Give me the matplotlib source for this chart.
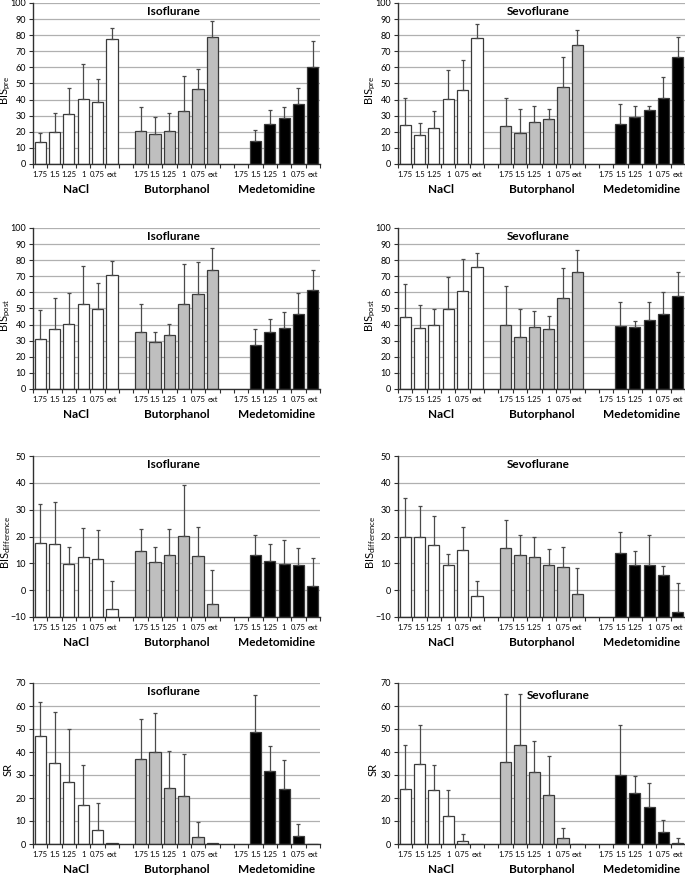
import numpy as np
import matplotlib
matplotlib.use("Agg")
import matplotlib.pyplot as plt

plt.rcParams['font.family'] = ['Lato', 'DejaVu Sans']
plt.rcParams['mathtext.default'] = 'regular'

nan = np.nan

groups = ["NaCl", "Butorphanol", "Medetomidine"]
doses = ["1.75", "1.5", "1.25", "1", "0.75", "ext"]
group_colors = ["white", "#bfbfbf", "black"]

# means and SDs, 18 bars per panel: NaCl x6, Butorphanol x6, Medetomidine x6
iso_pre_mean = [13.5, 19.9, 30.8, 40.6, 38.3, 77.8, 20.5, 18.6, 20.5, 32.7, 46.4, 78.9, nan, 14.3, 24.6, 28.8, 37.3, 60.5]
iso_pre_sd = [5.8, 11.8, 16.6, 21.3, 14.5, 6.7, 14.9, 10.6, 11.2, 21.8, 12.6, 9.9, nan, 6.8, 8.9, 6.6, 9.7, 15.7]
sev_pre_mean = [24.2, 18.0, 22.6, 40.6, 45.8, 78.3, 23.6, 19.5, 25.9, 28.2, 47.8, 73.9, nan, 25.0, 29.4, 33.3, 41.0, 66.5]
sev_pre_sd = [16.6, 7.7, 10.1, 17.8, 18.8, 8.7, 17.2, 14.9, 9.9, 5.8, 18.9, 9.3, nan, 12.3, 6.6, 2.7, 13.0, 12.4]

iso_post_mean = [31.1, 37.5, 40.6, 52.6, 49.9, 71.0, 35.2, 29.2, 33.7, 52.6, 59.2, 73.9, nan, 27.3, 35.6, 38.1, 46.4, 61.7]
iso_post_sd = [17.8, 19.0, 19.0, 23.6, 15.9, 8.7, 17.6, 6.2, 6.5, 24.8, 19.5, 13.5, nan, 10.2, 7.9, 9.9, 13.0, 12.4]
sev_post_mean = [44.5, 37.9, 39.8, 49.9, 60.9, 76.0, 39.8, 32.5, 38.3, 37.5, 56.7, 72.5, nan, 38.9, 38.3, 42.9, 46.6, 58.0]
sev_post_sd = [20.5, 14.3, 9.9, 19.9, 19.8, 8.5, 24.4, 17.4, 10.1, 8.0, 18.2, 13.8, nan, 15.3, 4.1, 11.3, 13.9, 14.9]

iso_diff_mean = [17.6, 17.3, 9.8, 12.2, 11.7, -7.1, 14.7, 10.6, 13.2, 20.2, 12.9, -5.2, nan, 13.0, 10.9, 9.6, 9.3, 1.4]
iso_diff_sd = [14.6, 15.7, 6.4, 10.8, 10.6, 10.6, 8.0, 5.6, 9.7, 18.9, 10.5, 12.8, nan, 7.7, 6.2, 9.0, 6.3, 10.5]
sev_diff_mean = [19.9, 19.9, 17.0, 9.3, 15.0, -2.1, 15.8, 13.2, 12.3, 9.5, 8.5, -1.4, nan, 13.7, 9.2, 9.4, 5.7, -8.3]
sev_diff_sd = [14.5, 11.5, 10.7, 4.1, 8.4, 5.4, 10.3, 7.2, 7.4, 5.8, 7.6, 9.7, nan, 7.8, 5.5, 11.0, 3.2, 10.9]

iso_sr_mean = [46.9, 35.1, 26.9, 17.0, 6.1, 0.3, 36.9, 39.9, 24.3, 20.9, 3.2, 0.3, nan, 48.6, 31.7, 23.7, 3.6, 0.0]
iso_sr_sd = [14.7, 22.3, 23.1, 17.3, 11.6, 0, 17.6, 17.0, 16.2, 18.3, 6.5, 0, nan, 16.2, 10.8, 13.0, 5.0, 0]
sev_sr_mean = [23.8, 34.7, 23.5, 12.2, 1.3, 0.0, 35.7, 43.0, 31.1, 21.3, 2.5, 0.0, nan, 29.9, 22.1, 16.3, 5.4, 0.6]
sev_sr_sd = [19.2, 16.9, 10.8, 11.2, 3.1, 0, 29.6, 22.3, 13.8, 17.0, 4.5, 0, nan, 21.7, 7.5, 10.4, 5.2, 2.2]

ylabels = [r"BIS$_{pre}$", r"BIS$_{post}$", r"BIS$_{difference}$", "SR"]
ylims = [(0, 100), (0, 100), (-10, 50), (0, 70)]
rows = [
    [(iso_pre_mean, iso_pre_sd), (sev_pre_mean, sev_pre_sd)],
    [(iso_post_mean, iso_post_sd), (sev_post_mean, sev_post_sd)],
    [(iso_diff_mean, iso_diff_sd), (sev_diff_mean, sev_diff_sd)],
    [(iso_sr_mean, iso_sr_sd), (sev_sr_mean, sev_sr_sd)],
]
titles = ["Isoflurane", "Sevoflurane"]

W, H = 685, 876
fig = plt.figure(figsize=(W / 100, H / 100), dpi=100)

col_left = [33, 398]
row_top = [3, 228, 456, 683]
ax_w, ax_h = 287, 161

# category slots: 6 bars, 1 gap, 6 bars, 1 gap, 6 bars
slot = []
for g in range(3):
    for d in range(6):
        slot.append(g * 7 + d)
slot = np.array(slot)
xc = slot + 0.5

for r in range(4):
    lo, hi = ylims[r]
    for c in range(2):
        ax = fig.add_axes([col_left[c] / W, 1 - (row_top[r] + ax_h) / H, ax_w / W, ax_h / H])
        mean, sd = rows[r][c]
        mean = np.array(mean, dtype=float)
        sd = np.array(sd, dtype=float)

        for g in range(3):
            s = slice(g * 6, g * 6 + 6)
            ok = ~np.isnan(mean[s])
            ax.bar(xc[s][ok], mean[s][ok] - lo, bottom=lo, width=0.78,
                   color=group_colors[g], edgecolor="#3a3a3a", linewidth=0.9, zorder=3)
        has = ~np.isnan(mean) & (sd > 0)
        ax.errorbar(xc[has], mean[has], yerr=[np.zeros(has.sum()), sd[has]], fmt="none",
                    ecolor="#4a4a4a", elinewidth=0.9, capsize=1.6, capthick=0.9, zorder=4)

        ax.set_xlim(0, 20)
        ax.set_ylim(lo, hi)
        ax.set_yticks(np.arange(lo, hi + 1, 10))
        ax.yaxis.grid(True, color="#b0b0b0", linewidth=0.9, zorder=0)
        ax.set_axisbelow(True)
        for sp in ["top", "right"]:
            ax.spines[sp].set_visible(False)
        for sp in ["left", "bottom"]:
            ax.spines[sp].set_color("#303030")
            ax.spines[sp].set_linewidth(1.0)
            ax.spines[sp].set_zorder(5)

        ax.set_xticks(xc)
        ax.set_xticklabels(doses * 3, fontsize=5.5)
        ax.set_xticks(np.arange(0, 21, 1), minor=True)
        ax.tick_params(axis="x", which="major", length=0, pad=5)
        ax.tick_params(axis="x", which="minor", length=3, width=0.8, direction="out", color="#303030")
        ax.tick_params(axis="y", labelsize=6.5, length=3, width=0.8, pad=2, color="#303030")

        for g in range(3):
            ax.text(g * 7 + 3, -0.16, groups[g], transform=ax.get_xaxis_transform(),
                    ha="center", va="center", fontsize=8.5, fontweight="bold")

        ty = 0.95
        tx = 0.488
        if r == 3 and c == 1:
            ty, tx = 0.925, 0.557
        ax.text(tx, ty, titles[c], transform=ax.transAxes, ha="center", va="center",
                fontsize=8.5, fontweight="bold")

        ax.set_ylabel(ylabels[r], fontsize=8)
        ax.yaxis.set_label_coords(-0.068, 0.46)

fig.savefig("out.png", dpi=100)
